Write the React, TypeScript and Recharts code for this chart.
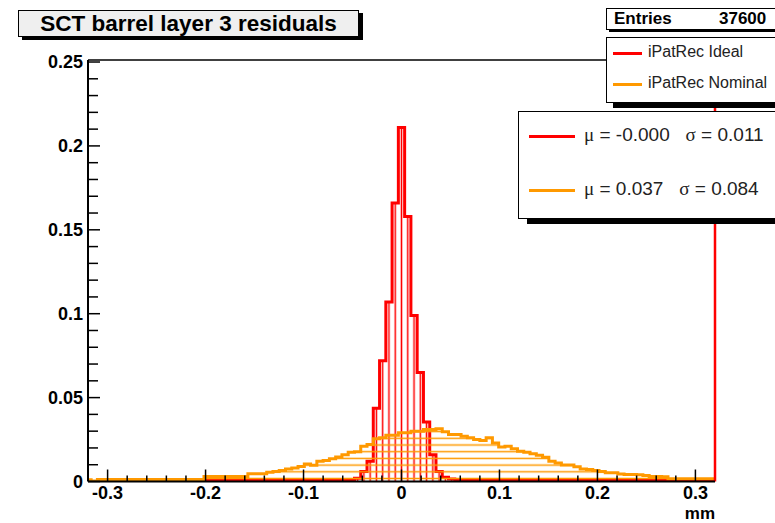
import { ComposedChart, Area, XAxis, YAxis, ReferenceLine } from 'recharts'

// 101 bins of 0.0064 mm, centred on 0 (first bin centre -0.32)
const BIN_WIDTH = 0.0064
const FIRST_EDGE = -0.3232

// iPatRec Ideal (red), fraction of entries per bin
const IDEAL = [
  0, 0, 0, 0, 0, 0, 0, 0, 0, 0,
  0, 0, 0, 0, 0, 0, 0, 0, 0,
  0.0008, 0.0008, 0.0008, 0.0008, 0.0008, 0.0008, 0.0008, 0.0008, 0.0008, 0.0008,
  0.0008, 0.0008, 0.0008, 0.0008, 0.0008, 0.0008, 0.0008, 0.0008, 0.0008, 0.0008,
  0.0008, 0.0008, 0.0008, 0.0008,
  0.002, 0.006, 0.012, 0.0437, 0.072, 0.107, 0.166,
  0.211,
  0.158, 0.099, 0.065, 0.0355, 0.016, 0.006, 0.0025, 0.0015,
  0.0008, 0.0008, 0.0008, 0.0008, 0.0008, 0.0008, 0.0008, 0.0008, 0.0008, 0.0008,
  0.0008, 0.0008, 0.0008, 0.0008, 0.0008, 0.0008, 0.0008, 0.0008, 0.0008, 0.0008,
  0.0008, 0.0008, 0.0008, 0.0008, 0.0008, 0.0008, 0.0008, 0.0008, 0.0008, 0.0008,
  0.0008, 0.0008, 0.0008, 0.0008,
  0, 0, 0, 0, 0, 0, 0, 0
]

// iPatRec Nominal (orange)
const NOMINAL = [
  0.001, 0.0003,
  0.0012, 0.0012, 0.0012, 0.0012, 0.0012, 0.0012, 0.0012, 0.0012, 0.0012,
  0.0012, 0.0012, 0.0012, 0.0012, 0.0012, 0.0012, 0.0012, 0.0012,
  0.003, 0.003, 0.003, 0.003, 0.003, 0.003, 0.003,
  0.0046, 0.0046, 0.0046, 0.0055, 0.006, 0.0065, 0.0075, 0.008, 0.009, 0.0105,
  0.0097, 0.012, 0.0125, 0.0136, 0.0146, 0.016, 0.0175, 0.0178, 0.021, 0.022,
  0.0255, 0.026, 0.0275, 0.0275,
  0.029,
  0.029, 0.03, 0.03, 0.031, 0.031, 0.0315, 0.0297, 0.028, 0.028, 0.027,
  0.026, 0.025, 0.0245, 0.026, 0.023, 0.0205, 0.021, 0.0195, 0.018, 0.0175,
  0.0166, 0.0156, 0.0145, 0.012, 0.011, 0.0098, 0.0098, 0.0088, 0.0075, 0.0072,
  0.0065, 0.006, 0.0052, 0.0052, 0.0044, 0.0042, 0.0042, 0.004, 0.0036, 0.003,
  0.003, 0.0028,
  0.0016, 0.0016, 0.0016, 0.0016, 0.0016, 0.0016, 0.0016, 0.0016
]

const X_MAJOR = [-0.3, -0.2, -0.1, 0, 0.1, 0.2, 0.3]
const X_LABELS = ['-0.3', '-0.2', '-0.1', '0', '0.1', '0.2', '0.3']
const Y_MAJOR = [0, 0.05, 0.1, 0.15, 0.2, 0.25]
const Y_LABELS = ['0', '0.05', '0.1', '0.15', '0.2', '0.25']

const X_MIN = -0.32
const X_MAX = 0.32
const Y_TOP = 0.2512

const RED = '#ff0000'
const ORANGE = '#ff9900'
const FONT = '"Liberation Sans", Arial, Helvetica, sans-serif'

// step points at bin edges, last point closes the final bin
const data = IDEAL.map((v, i) => ({ x: FIRST_EDGE + i * BIN_WIDTH, ideal: v, nominal: NOMINAL[i] }))
data.push({ x: FIRST_EDGE + IDEAL.length * BIN_WIDTH, ideal: IDEAL[IDEAL.length - 1], nominal: NOMINAL[NOMINAL.length - 1] })

// minor ticks between the labelled ones
const xTicks: number[] = []
for (let i = -15; i <= 15; i++) xTicks.push(Math.round(i * 2) / 100)
const yTicks: number[] = []
for (let i = 0; i <= 25; i++) yTicks.push(i / 100)

const findMajor = (list: number[], v: number) => list.findIndex(m => Math.abs(m - v) < 1e-6)

// eslint-disable-next-line @typescript-eslint/no-explicit-any
const XTick = (props: any) => {
  const { x, y, payload } = props
  const idx = findMajor(X_MAJOR, payload.value)
  return (
    <g>
      <line x1={x} x2={x} y1={y} y2={y - (idx >= 0 ? 12 : 6)} stroke="#000" strokeWidth={1.5} />
      {idx >= 0 && (
        <text x={x} y={y + 17.5} textAnchor="middle" fontFamily={FONT} fontWeight="bold" fontSize={18} fill="#000">
          {X_LABELS[idx]}
        </text>
      )}
    </g>
  )
}

// eslint-disable-next-line @typescript-eslint/no-explicit-any
const YTick = (props: any) => {
  const { x, y, payload } = props
  const idx = findMajor(Y_MAJOR, payload.value)
  return (
    <g>
      <line x1={x} x2={x + (idx >= 0 ? 12 : 10)} y1={y} y2={y} stroke="#000" strokeWidth={1.5} />
      {idx >= 0 && (
        <text x={x - 5} y={y} dy={6} textAnchor="end" fontFamily={FONT} fontWeight="bold" fontSize={18} fill="#000">
          {Y_LABELS[idx]}
        </text>
      )}
    </g>
  )
}

const boxStyle = (left: number, top: number, width: number, height: number, shadow: string) => ({
  position: 'absolute' as const,
  left,
  top,
  width,
  height,
  border: '1px solid #000',
  background: '#fff',
  boxShadow: shadow,
  boxSizing: 'border-box' as const
})

export default function App() {
  return (
    <div style={{ position: 'absolute', left: 0, top: 0, width: 775, height: 523, background: '#fff', overflow: 'hidden', fontFamily: FONT }}>
      <ComposedChart width={775} height={523} data={data} margin={{ top: 60, right: 60, bottom: 11.5, left: 0 }}>
        <defs>
          <pattern id="redHatch" patternUnits="userSpaceOnUse" x={398.365} y={0} width={6.27} height={10}>
            <line x1={3.135} x2={3.135} y1={0} y2={10} stroke={RED} strokeWidth={1.5} />
          </pattern>
          <pattern id="orangeHatch" patternUnits="userSpaceOnUse" x={0} y={448.35} width={10} height={6.7}>
            <line x1={0} x2={10} y1={3.35} y2={3.35} stroke={ORANGE} strokeWidth={1.5} />
          </pattern>
        </defs>
        <Area
          type="stepAfter"
          dataKey="ideal"
          stroke={RED}
          strokeWidth={3}
          fill="url(#redHatch)"
          fillOpacity={1}
          dot={false}
          activeDot={false}
          isAnimationActive={false}
        />
        <Area
          type="stepAfter"
          dataKey="nominal"
          stroke={ORANGE}
          strokeWidth={3}
          fill="url(#orangeHatch)"
          fillOpacity={1}
          dot={false}
          activeDot={false}
          isAnimationActive={false}
        />
        <XAxis
          dataKey="x"
          type="number"
          domain={[X_MIN, X_MAX]}
          allowDataOverflow
          ticks={xTicks}
          interval={0}
          height={30}
          tickSize={0}
          tickMargin={0}
          tickLine={false}
          axisLine={{ stroke: '#000', strokeWidth: 2 }}
          tick={XTick}
        />
        <YAxis
          type="number"
          domain={[0, Y_TOP]}
          allowDataOverflow
          ticks={yTicks}
          interval={0}
          width={88}
          tickSize={0}
          tickMargin={0}
          tickLine={false}
          axisLine={{ stroke: '#000', strokeWidth: 2 }}
          tick={YTick}
        />
        <ReferenceLine y={Y_TOP} stroke="#000" strokeWidth={1.5} />
        <ReferenceLine x={X_MAX} stroke={RED} strokeWidth={2.5} />
      </ComposedChart>

      <div style={{ position: 'absolute', left: 675, top: 504, width: 40, textAlign: 'right', fontWeight: 'bold', fontSize: 17 }}>mm</div>

      {/* title */}
      <div style={{ ...boxStyle(18, 10, 341, 27, '4px 3px 0 #000'), background: '#efefef', textAlign: 'center', fontWeight: 'bold', fontSize: 22.5, lineHeight: '25px' }}>
        SCT barrel layer 3 residuals
      </div>

      {/* stats */}
      <div style={{ ...boxStyle(606, 8, 175, 22, '3px 2px 0 #000'), fontWeight: 'bold', fontSize: 17, lineHeight: '20px' }}>
        <span style={{ position: 'absolute', left: 7 }}>Entries</span>
        <span style={{ position: 'absolute', left: 112 }}>37600</span>
      </div>

      {/* legend */}
      <div style={{ ...boxStyle(606, 37, 175, 66, '7px 5px 0 #000'), fontSize: 16 }}>
        <div style={{ position: 'absolute', left: 6, top: 14, width: 29, height: 3, background: RED }} />
        <span style={{ position: 'absolute', left: 41, top: 5, color: '#222' }}>iPatRec Ideal</span>
        <div style={{ position: 'absolute', left: 6, top: 45, width: 29, height: 3, background: ORANGE }} />
        <span style={{ position: 'absolute', left: 41, top: 36, color: '#222' }}>iPatRec Nominal</span>
      </div>

      {/* fit results */}
      <div style={{ ...boxStyle(518, 111, 262, 108, '9px 5px 0 #000'), fontSize: 19, whiteSpace: 'pre' }}>
        <div style={{ position: 'absolute', left: 10, top: 23, width: 46, height: 3, background: RED }} />
        <span style={{ position: 'absolute', left: 65, top: 12, color: '#222' }}>
          <span style={{ fontFamily: '"Liberation Serif", serif' }}>μ</span> = -0.000   <span style={{ fontFamily: '"Liberation Serif", serif' }}>σ</span> = 0.011
        </span>
        <div style={{ position: 'absolute', left: 10, top: 77, width: 46, height: 3, background: ORANGE }} />
        <span style={{ position: 'absolute', left: 65, top: 66, color: '#222' }}>
          <span style={{ fontFamily: '"Liberation Serif", serif' }}>μ</span> = 0.037   <span style={{ fontFamily: '"Liberation Serif", serif' }}>σ</span> = 0.084
        </span>
      </div>
    </div>
  )
}
